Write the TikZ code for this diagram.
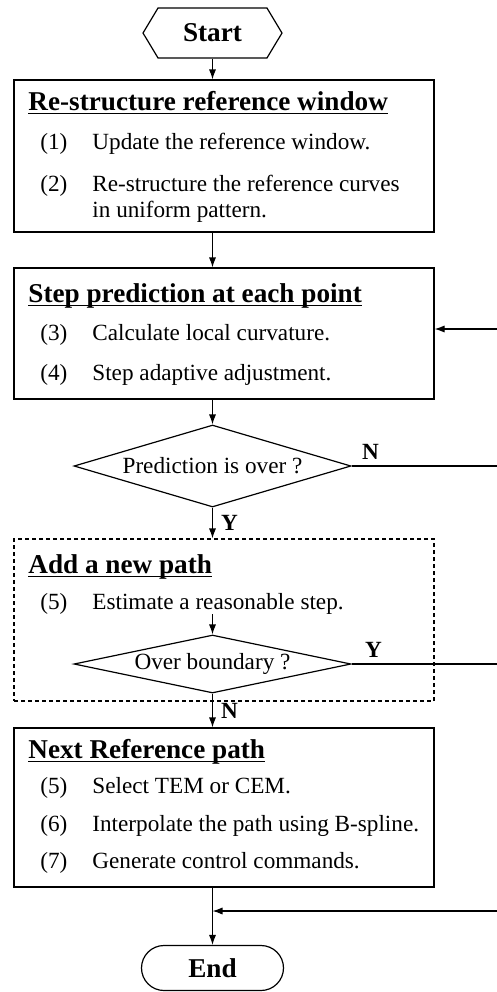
\documentclass[tikz,border=0pt]{standalone}
\usepackage{fontspec}
\setmainfont{Liberation Serif}
\usetikzlibrary{shapes.geometric,shapes.misc,shapes.symbols,arrows.meta,positioning}
\newcommand{\hdul}[1]{\setbox0\hbox{#1}\rlap{\rule[-2.2pt]{\wd0}{0.6pt}}\box0}
\tikzstyle{l1}=[line width=0.6pt]
\tikzstyle{arr}=[l1, -{Latex[length=5pt,width=3.6pt]}]
\tikzstyle{box}=[draw=black, l1, minimum width=210pt, inner sep=0pt]
\tikzstyle{dbox}=[box, dash pattern=on 2pt off 1.5pt]
\tikzstyle{dec}=[diamond, draw=black, l1, minimum width=138.5pt, inner sep=0pt, font=\fontsize{11.6}{14}\selectfont]
\tikzstyle{term}=[draw=black, l1, inner sep=0pt, font=\fontsize{13.6}{16}\selectfont\bfseries]
\tikzstyle{ttl}=[anchor=base west, inner sep=0pt, font=\fontsize{13.6}{16}\selectfont\bfseries]
\tikzstyle{itm}=[anchor=base west, inner sep=0pt, font=\fontsize{11.6}{14}\selectfont]
\tikzstyle{yn}=[inner sep=0pt, font=\fontsize{11.6}{14}\selectfont\bfseries]

\begin{document}
\begin{tikzpicture}[x=0.5pt,y=-0.5pt]
    \useasboundingbox (0,0) rectangle (497,992);

    % terminals and decisions
    \node[term, signal, signal to=east and west, signal pointer angle=118,
          minimum width=69.5pt, minimum height=25pt] (st) at (212.5,33) {Start};
    \node[box, minimum height=76pt]   (rw) at (224,156)   {};
    \node[box, minimum height=65.5pt] (sp) at (224,333.5) {};
    \node[dec, aspect=3.38, minimum height=41pt] (d1) at (212.5,466) {Prediction is over ?};
    \node[dbox, minimum height=81pt]  (np) at (224,620)   {};
    \node[dec, aspect=4.78, minimum height=29pt] (d2) at (212.5,664) {Over boundary ?};
    \node[box, minimum height=79.5pt] (nr) at (224,807.5) {};
    \node[term, rounded rectangle, minimum width=71pt, minimum height=22.5pt] (en) at (212.5,968) {End};

    % box texts
    \node[ttl] (t1) at (28,110) {\hdul{Re-structure reference window}};
    \node[itm] (n1) at (40,149) {(1)};
    \node[itm] (i1) at (92,149) {Update the reference window.};
    \node[itm] (n2) at (40,191) {(2)};
    \node[itm] (i2) at (92,191) {Re-structure the reference curves};
    \node[itm] (i2b) at (92,217) {in uniform pattern.};

    \node[ttl] (t2) at (28,302) {\hdul{Step prediction at each point}};
    \node[itm] (n3) at (40,340) {(3)};
    \node[itm] (i3) at (92,340) {Calculate local curvature.};
    \node[itm] (n4) at (40,380) {(4)};
    \node[itm] (i4) at (92,380) {Step adaptive adjustment.};

    \node[ttl] (t3) at (28,573) {\hdul{Add a new path}};
    \node[itm] (n5) at (40,609) {(5)};
    \node[itm] (est) at (92,609) {Estimate a reasonable step.};

    \node[ttl] (t4) at (28,758) {\hdul{Next Reference path}};
    \node[itm] (n6) at (40,793) {(5)};
    \node[itm] (i6) at (92,793) {Select TEM or CEM.};
    \node[itm] (n7) at (40,831) {(6)};
    \node[itm] (i7) at (92,831) {Interpolate the path using B-spline.};
    \node[itm] (n8) at (40,868) {(7)};
    \node[itm] (i8) at (92,868) {Generate control commands.};

    % free ends at the right edge
    \coordinate (r1) at (497,329);
    \coordinate (r2) at (497,466);
    \coordinate (r3) at (497,664);
    \coordinate (r4) at (497,911);

    % connectors
    \draw[arr] (st.south) -- (st.south |- rw.north);
    \draw[arr] (st.south |- rw.south) -- (st.south |- sp.north);
    \draw[arr] (st.south |- sp.south) -- (d1.north);
    \draw[arr] (d1.south) -- (d1.south |- np.north) node[yn, pos=0.5, right=4pt] (y1) {Y};
    \draw[arr] (d2.north |- est.south) -- (d2.north);
    \draw[arr] (d2.south) -- (d2.south |- nr.north) node[yn, pos=0.5, right=4pt] (n9) {N};
    \draw[arr] (d2.south |- nr.south) -- (en.north);
    \draw[arr] (r1) -- (r1 -| sp.east);
    \draw[l1] (d1.east) -- (r2) node[yn, pos=0.13, above=3pt] (n10) {N};
    \draw[l1] (d2.east) -- (r3) node[yn, pos=0.15, above=3pt] (y2) {Y};
    \draw[arr] (r4) -- (r4 -| en.north);
\end{tikzpicture}
\end{document}
